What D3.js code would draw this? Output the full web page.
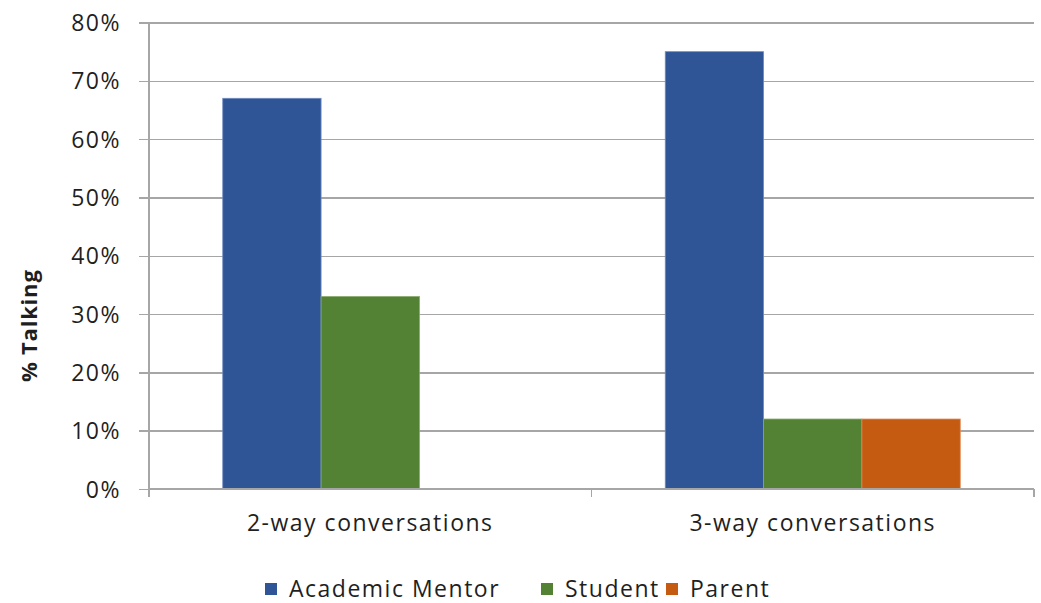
<!DOCTYPE html>
<html>
<head>
<meta charset="utf-8">
<script src="https://cdn.jsdelivr.net/npm/d3@7"></script>
<style>
  html, body { margin: 0; padding: 0; background: #ffffff; }
  svg { display: block; }
  text { font-family: "Open Sans", "Noto Sans", sans-serif; fill: #1f1f1f; letter-spacing: 1.5px; }
</style>
</head>
<body>
<svg id="chart" width="1041" height="603"></svg>
<script>
// Share of talking time by speaker, per conversation type
const categories = ["2-way conversations", "3-way conversations"];
const seriesNames = ["Academic Mentor", "Student", "Parent"];
const academicMentor = [0.67, 0.75];
const student = [0.33, 0.12];
const parent = [0, 0.12];
const yTicks = [0, 0.1, 0.2, 0.3, 0.4, 0.5, 0.6, 0.7, 0.8];
const colors = ["#2F5597", "#548235", "#C55A11"];
const strokes = ["#6F8CC0", "#86A86A", "#E08A55"];

const seriesValues = [academicMentor, student, parent];
const rows = categories.map((c, i) => ({
  category: c,
  values: seriesNames.map((s, j) => ({ series: s, idx: j, value: seriesValues[j][i] }))
}));

const svg = d3.select("#chart");
const plot = { left: 149, right: 1034, top: 22.5, bottom: 489 };

const y = d3.scaleLinear().domain([0, 0.8]).range([plot.bottom, plot.top]);
const x0 = d3.scaleBand().domain(categories).range([plot.left, plot.right]).padding(0);
const x1 = d3.scaleBand().domain(seriesNames).range([0, x0.bandwidth()])
  .paddingInner(0).paddingOuter(0.75);

// Horizontal gridlines with short outward ticks
const yAxis = d3.axisLeft(y)
  .tickValues(yTicks)
  .tickFormat(d3.format(".0%"))
  .tickSize(-(plot.right - plot.left) - 10)
  .tickPadding(18);

const gy = svg.append("g")
  .attr("transform", `translate(${plot.left - 10},0)`)
  .call(yAxis);
gy.select(".domain").remove();
gy.selectAll(".tick line")
  .attr("x1", 0)
  .attr("x2", plot.right - plot.left + 10)
  .attr("stroke", "#A6A6A6")
  .attr("stroke-width", 1.5)
  .attr("shape-rendering", "crispEdges");
gy.selectAll(".tick text")
  .attr("x", -18)
  .attr("dy", "0.35em")
  .style("font-size", "23px");

// Vertical value-axis line
svg.append("line")
  .attr("x1", plot.left).attr("x2", plot.left)
  .attr("y1", plot.top).attr("y2", plot.bottom)
  .attr("stroke", "#A6A6A6").attr("stroke-width", 1.5)
  .attr("shape-rendering", "crispEdges");

// Bars
const groups = svg.append("g").selectAll("g")
  .data(rows)
  .join("g")
  .attr("transform", d => `translate(${x0(d.category)},0)`);

groups.selectAll("rect")
  .data(d => d.values.filter(v => v.value > 0))
  .join("rect")
  .attr("x", d => x1(d.series))
  .attr("y", d => y(d.value))
  .attr("width", x1.bandwidth())
  .attr("height", d => y(0) - y(d.value))
  .attr("fill", d => colors[d.idx])
  .attr("stroke", d => strokes[d.idx])
  .attr("stroke-width", 0.8);

// Category axis with boundary ticks
const xAxis = d3.axisBottom(x0).tickSize(0).tickPadding(26);
const gx = svg.append("g")
  .attr("transform", `translate(0,${plot.bottom})`)
  .call(xAxis);
gx.select(".domain")
  .attr("d", `M${plot.left},0H${plot.right}`)
  .attr("stroke", "#A6A6A6").attr("stroke-width", 1.5)
  .attr("shape-rendering", "crispEdges");
gx.selectAll(".tick text")
  .style("font-size", "23px");

const bounds = [plot.left].concat(categories.map(c => x0(c) + x0.bandwidth()));
gx.selectAll(".bound")
  .data(bounds)
  .join("line")
  .attr("class", "bound")
  .attr("x1", d => d).attr("x2", d => d)
  .attr("y1", 0).attr("y2", 8)
  .attr("stroke", "#A6A6A6").attr("stroke-width", 1.5)
  .attr("shape-rendering", "crispEdges");

// Y-axis title
svg.append("text")
  .attr("transform", `translate(37,${(plot.top + plot.bottom) / 2 + 70}) rotate(-90)`)
  .attr("text-anchor", "middle")
  .style("font-size", "22px")
  .style("font-weight", "bold")
  .style("letter-spacing", "0.8px")
  .text("% Talking");

// Legend
const legendX = [265, 541, 666];
const legend = svg.append("g").selectAll("g")
  .data(seriesNames)
  .join("g")
  .attr("transform", (d, i) => `translate(${legendX[i]},583)`);
legend.append("rect")
  .attr("width", 12).attr("height", 12)
  .attr("fill", (d, i) => colors[i]);
legend.append("text")
  .attr("x", 24).attr("y", 14)
  .style("font-size", "23px")
  .text(d => d);
</script>
</body>
</html>
